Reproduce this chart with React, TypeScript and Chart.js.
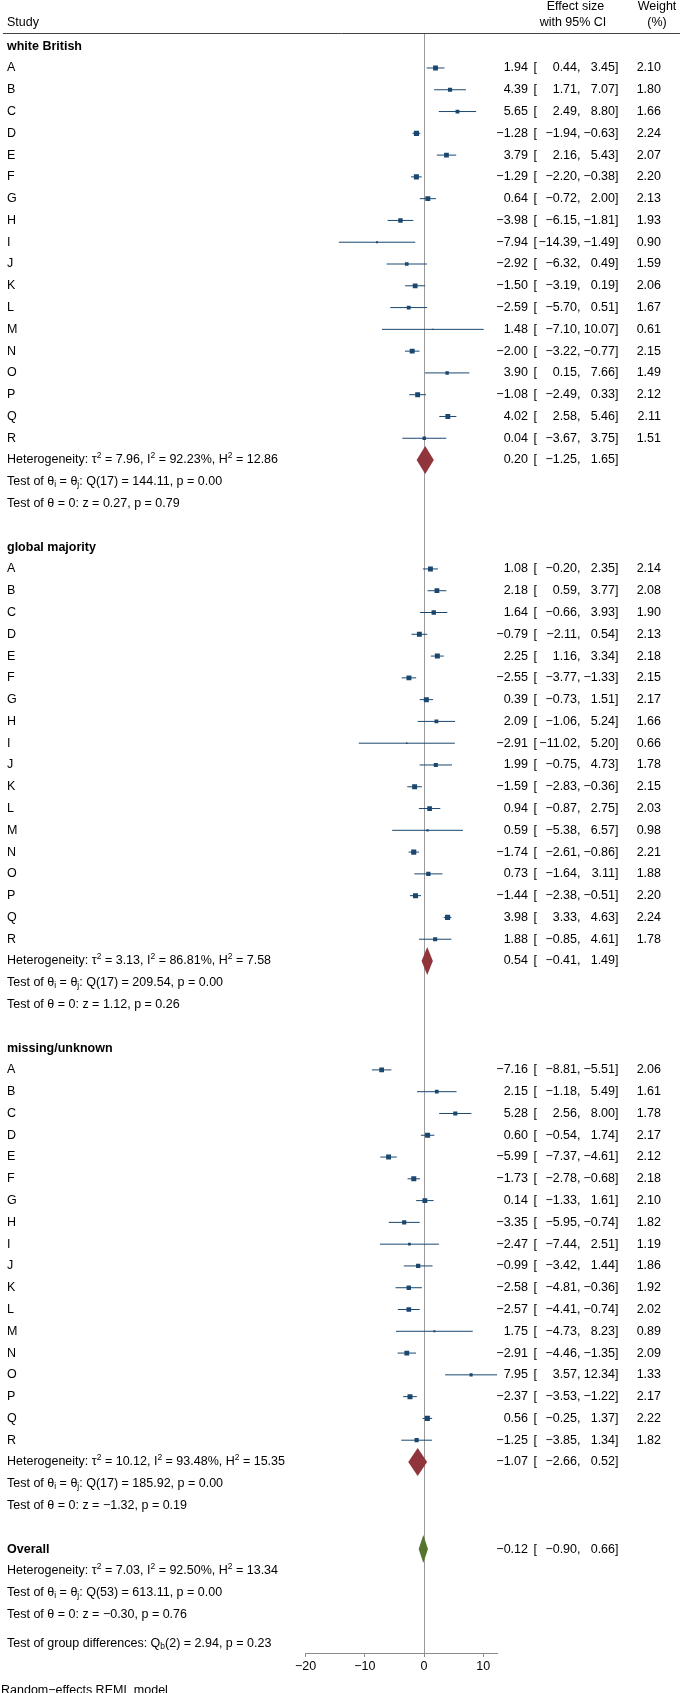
import React, { useEffect, useRef } from "react";
import { Chart, registerables } from "chart.js";
Chart.register(...registerables);

// ---------- data ----------
const studyLabels = ["A", "B", "C", "D", "E", "F", "G", "H", "I", "J", "K", "L", "M", "N", "O", "P", "Q", "R"];
const groupNames = ["white British", "global majority", "missing/unknown"];

const wbEst = [1.94, 4.39, 5.65, -1.28, 3.79, -1.29, 0.64, -3.98, -7.94, -2.92, -1.5, -2.59, 1.48, -2.0, 3.9, -1.08, 4.02, 0.04];
const wbLo = [0.44, 1.71, 2.49, -1.94, 2.16, -2.2, -0.72, -6.15, -14.39, -6.32, -3.19, -5.7, -7.1, -3.22, 0.15, -2.49, 2.58, -3.67];
const wbHi = [3.45, 7.07, 8.8, -0.63, 5.43, -0.38, 2.0, -1.81, -1.49, 0.49, 0.19, 0.51, 10.07, -0.77, 7.66, 0.33, 5.46, 3.75];
const wbWt = [2.1, 1.8, 1.66, 2.24, 2.07, 2.2, 2.13, 1.93, 0.9, 1.59, 2.06, 1.67, 0.61, 2.15, 1.49, 2.12, 2.11, 1.51];

const gmEst = [1.08, 2.18, 1.64, -0.79, 2.25, -2.55, 0.39, 2.09, -2.91, 1.99, -1.59, 0.94, 0.59, -1.74, 0.73, -1.44, 3.98, 1.88];
const gmLo = [-0.2, 0.59, -0.66, -2.11, 1.16, -3.77, -0.73, -1.06, -11.02, -0.75, -2.83, -0.87, -5.38, -2.61, -1.64, -2.38, 3.33, -0.85];
const gmHi = [2.35, 3.77, 3.93, 0.54, 3.34, -1.33, 1.51, 5.24, 5.2, 4.73, -0.36, 2.75, 6.57, -0.86, 3.11, -0.51, 4.63, 4.61];
const gmWt = [2.14, 2.08, 1.9, 2.13, 2.18, 2.15, 2.17, 1.66, 0.66, 1.78, 2.15, 2.03, 0.98, 2.21, 1.88, 2.2, 2.24, 1.78];

const muEst = [-7.16, 2.15, 5.28, 0.6, -5.99, -1.73, 0.14, -3.35, -2.47, -0.99, -2.58, -2.57, 1.75, -2.91, 7.95, -2.37, 0.56, -1.25];
const muLo = [-8.81, -1.18, 2.56, -0.54, -7.37, -2.78, -1.33, -5.95, -7.44, -3.42, -4.81, -4.41, -4.73, -4.46, 3.57, -3.53, -0.25, -3.85];
const muHi = [-5.51, 5.49, 8.0, 1.74, -4.61, -0.68, 1.61, -0.74, 2.51, 1.44, -0.36, -0.74, 8.23, -1.35, 12.34, -1.22, 1.37, 1.34];
const muWt = [2.06, 1.61, 1.78, 2.17, 2.12, 2.18, 2.1, 1.82, 1.19, 1.86, 1.92, 2.02, 0.89, 2.09, 1.33, 2.17, 2.22, 1.82];

const subEst = [0.2, 0.54, -1.07];
const subLo = [-1.25, -0.41, -2.66];
const subHi = [1.65, 1.49, 0.52];
const subTau2 = [7.96, 3.13, 10.12];
const subI2 = [92.23, 86.81, 93.48];
const subH2 = [12.86, 7.58, 15.35];
const subQ = [144.11, 209.54, 185.92];
const subQdf = [17, 17, 17];
const subQp = [0.0, 0.0, 0.0];
const subZ = [0.27, 1.12, -1.32];
const subZp = [0.79, 0.26, 0.19];

const overallEst = -0.12;
const overallLo = -0.9;
const overallHi = 0.66;
const overallTau2 = 7.03;
const overallI2 = 92.5;
const overallH2 = 13.34;
const overallQ = 613.11;
const overallQdf = 53;
const overallQp = 0.0;
const overallZ = -0.3;
const overallZp = 0.76;
const groupDiffQ = 2.94;
const groupDiffDf = 2;
const groupDiffP = 0.23;

const xTicks = [-20, -10, 0, 10];

// ---------- layout / style ----------
const W = 680;
const H = 1693;
const FONT = '"Liberation Sans", Arial, Helvetica, sans-serif';
const FS = 12.5;
const FS_SMALL = 8.5;
const NAVY = "#1a476f";
const MAROON = "#90353b";
const GREEN = "#55752f";
const ROWS_PER_GROUP = 23;
const OVERALL_ROW = 69;
const GROUPDIFF_ROW = 73.33;

const groupEst = [wbEst, gmEst, muEst];
const groupLo = [wbLo, gmLo, muLo];
const groupHi = [wbHi, gmHi, muHi];
const groupWt = [wbWt, gmWt, muWt];

type Seg = { t: string; s?: "sup" | "sub"; b?: boolean };

const fmt = (v: number) => v.toFixed(2).replace("-", "\u2212");

function drawRich(ctx: CanvasRenderingContext2D, segs: Seg[], x: number, y: number) {
  let cx = x;
  ctx.textAlign = "left";
  ctx.textBaseline = "middle";
  for (const seg of segs) {
    const size = seg.s ? FS_SMALL : FS;
    ctx.font = `${seg.b ? "bold " : ""}${size}px ${FONT}`;
    const dy = seg.s === "sup" ? -4.5 : seg.s === "sub" ? 3 : 0;
    ctx.fillText(seg.t, cx, y + dy);
    cx += ctx.measureText(seg.t).width;
  }
}

function hetSegs(t2: number, i2: number, h2: number): Seg[] {
  return [
    { t: "Heterogeneity: \u03c4" },
    { t: "2", s: "sup" },
    { t: ` = ${fmt(t2)}, I` },
    { t: "2", s: "sup" },
    { t: ` = ${fmt(i2)}%, H` },
    { t: "2", s: "sup" },
    { t: ` = ${fmt(h2)}` },
  ];
}
function qSegs(df: number, q: number, p: number): Seg[] {
  return [
    { t: "Test of \u03b8" },
    { t: "i", s: "sub" },
    { t: " = \u03b8" },
    { t: "j", s: "sub" },
    { t: `: Q(${df}) = ${fmt(q)}, p = ${fmt(p)}` },
  ];
}
function zSegs(z: number, p: number): Seg[] {
  return [{ t: `Test of \u03b8 = 0: z = ${fmt(z)}, p = ${fmt(p)}` }];
}

type StudyRow = { est: number; lo: number; hi: number; wt: number; row: number; label: string };
const studyRows: StudyRow[] = [];
groupEst.forEach((arr, g) => {
  arr.forEach((est, k) => {
    studyRows.push({
      est,
      lo: groupLo[g][k],
      hi: groupHi[g][k],
      wt: groupWt[g][k],
      row: g * ROWS_PER_GROUP + 1 + k,
      label: studyLabels[k],
    });
  });
});
const allHi = Math.max(...studyRows.map((r) => r.hi));

function drawValues(ctx: CanvasRenderingContext2D, y: number, est: number, lo: number, hi: number, wt?: number) {
  ctx.font = `${FS}px ${FONT}`;
  ctx.textBaseline = "middle";
  ctx.textAlign = "right";
  ctx.fillText(fmt(est), 528, y);
  ctx.textAlign = "left";
  ctx.fillText("[", 533.5, y);
  ctx.textAlign = "right";
  ctx.fillText(fmt(lo) + ",", 580.5, y);
  ctx.fillText(fmt(hi) + "]", 618.5, y);
  if (wt !== undefined) ctx.fillText(fmt(wt), 661, y);
}

const forestPlugin = {
  id: "forest",
  beforeDatasetsDraw(chart: any) {
    const { ctx, chartArea, scales } = chart;
    const x0 = Math.round(scales.x.getPixelForValue(0)) + 0.5;
    ctx.save();
    ctx.lineWidth = 1;
    ctx.strokeStyle = "#9a9a9a";
    ctx.beginPath();
    ctx.moveTo(x0, chartArea.top);
    ctx.lineTo(x0, chartArea.bottom);
    ctx.stroke();
    ctx.strokeStyle = "#444444";
    ctx.beginPath();
    ctx.moveTo(3, chartArea.top + 0.5);
    ctx.lineTo(W, chartArea.top + 0.5);
    ctx.stroke();
    ctx.restore();
  },
  afterDatasetsDraw(chart: any) {
    const { ctx, scales } = chart;
    const xs = scales.x;
    const ys = scales.y;
    const diamond = (est: number, lo: number, hi: number, row: number, color: string) => {
      const yc = ys.getPixelForValue(row);
      const h = 14;
      ctx.beginPath();
      ctx.moveTo(xs.getPixelForValue(lo), yc);
      ctx.lineTo(xs.getPixelForValue(est), yc - h);
      ctx.lineTo(xs.getPixelForValue(hi), yc);
      ctx.lineTo(xs.getPixelForValue(est), yc + h);
      ctx.closePath();
      ctx.fillStyle = color;
      ctx.fill();
    };
    ctx.save();
    subEst.forEach((e, g) => diamond(e, subLo[g], subHi[g], g * ROWS_PER_GROUP + 19, MAROON));
    diamond(overallEst, overallLo, overallHi, OVERALL_ROW, GREEN);
    ctx.restore();
  },
  afterDraw(chart: any) {
    const { ctx, scales } = chart;
    const ys = scales.y;
    const LX = 7;
    ctx.save();
    ctx.fillStyle = "#000000";
    // header
    ctx.font = `${FS}px ${FONT}`;
    ctx.textBaseline = "middle";
    ctx.textAlign = "left";
    ctx.fillText("Study", LX, 23);
    ctx.textAlign = "center";
    ctx.fillText("Effect size", 575.5, 6.5);
    ctx.fillText("with 95% CI", 573, 22.5);
    ctx.fillText("Weight", 657, 6.5);
    ctx.fillText("(%)", 657, 22.5);

    // groups
    groupNames.forEach((name, g) => {
      const base = g * ROWS_PER_GROUP;
      drawRich(ctx, [{ t: name, b: true }], LX, ys.getPixelForValue(base));
      drawRich(ctx, hetSegs(subTau2[g], subI2[g], subH2[g]), LX, ys.getPixelForValue(base + 19));
      drawRich(ctx, qSegs(subQdf[g], subQ[g], subQp[g]), LX, ys.getPixelForValue(base + 20));
      drawRich(ctx, zSegs(subZ[g], subZp[g]), LX, ys.getPixelForValue(base + 21));
      drawValues(ctx, ys.getPixelForValue(base + 19), subEst[g], subLo[g], subHi[g]);
    });
    studyRows.forEach((r) => {
      const y = ys.getPixelForValue(r.row);
      drawRich(ctx, [{ t: r.label }], LX, y);
      drawValues(ctx, y, r.est, r.lo, r.hi, r.wt);
    });

    // overall
    drawRich(ctx, [{ t: "Overall", b: true }], LX, ys.getPixelForValue(OVERALL_ROW));
    drawValues(ctx, ys.getPixelForValue(OVERALL_ROW), overallEst, overallLo, overallHi);
    drawRich(ctx, hetSegs(overallTau2, overallI2, overallH2), LX, ys.getPixelForValue(OVERALL_ROW + 1));
    drawRich(ctx, qSegs(overallQdf, overallQ, overallQp), LX, ys.getPixelForValue(OVERALL_ROW + 2));
    drawRich(ctx, zSegs(overallZ, overallZp), LX, ys.getPixelForValue(OVERALL_ROW + 3));
    drawRich(
      ctx,
      [
        { t: "Test of group differences: Q" },
        { t: "b", s: "sub" },
        { t: `(${groupDiffDf}) = ${fmt(groupDiffQ)}, p = ${fmt(groupDiffP)}` },
      ],
      LX,
      ys.getPixelForValue(GROUPDIFF_ROW)
    );
    drawRich(ctx, [{ t: "Random\u2212effects REML model" }], 1, 1691);
    ctx.restore();
  },
};

export default function App() {
  const ref = useRef<HTMLCanvasElement | null>(null);
  useEffect(() => {
    if (!ref.current) return;
    const squares = {
      data: studyRows.map((r) => ({ x: r.est, y: r.row })),
      pointStyle: "rect",
      pointRadius: studyRows.map((r) => Math.max(0.7, (2.3 * r.wt) / Math.SQRT2)),
      pointHoverRadius: studyRows.map((r) => Math.max(0.7, (2.3 * r.wt) / Math.SQRT2)),
      backgroundColor: NAVY,
      borderColor: NAVY,
      borderWidth: 0,
      showLine: false,
    };
    const ciLines = studyRows.map((r) => ({
      data: [
        { x: r.lo, y: r.row },
        { x: r.hi, y: r.row },
      ],
      showLine: true,
      borderColor: NAVY,
      borderWidth: 1,
      pointRadius: 0,
      pointHoverRadius: 0,
    }));
    const chart = new Chart(ref.current, {
      type: "scatter",
      data: { datasets: [squares as any, ...(ciLines as any[])] },
      options: {
        responsive: false,
        devicePixelRatio: 1,
        animation: false,
        events: [],
        layout: { padding: { left: 305.6, right: 182.9, top: 33, bottom: 0 } },
        plugins: { legend: { display: false }, tooltip: { enabled: false } },
        scales: {
          x: {
            type: "linear",
            position: "bottom",
            min: xTicks[0],
            max: allHi,
            afterBuildTicks: (scale: any) => {
              scale.ticks = xTicks.map((v) => ({ value: v }));
            },
            afterFit: (scale: any) => {
              scale.height = 40;
            },
            border: { display: true, color: "#8c8c8c", width: 1 },
            grid: { display: true, drawOnChartArea: false, drawTicks: true, tickLength: 4, color: "#8c8c8c" },
            ticks: {
              color: "#000000",
              padding: 2,
              maxRotation: 0,
              autoSkip: false,
              font: { size: FS, family: FONT },
              callback: (v: any) => String(v).replace("-", "\u2212"),
            },
          },
          y: {
            type: "linear",
            display: false,
            reverse: true,
            min: -0.606,
            max: 73.77,
          },
        },
      },
      plugins: [forestPlugin as any],
    });
    return () => chart.destroy();
  }, []);
  return (
    <div style={{ position: "absolute", left: 0, top: 0, width: W, height: H, background: "#ffffff" }}>
      <canvas ref={ref} width={W} height={H} style={{ display: "block", width: W, height: H }} />
    </div>
  );
}
